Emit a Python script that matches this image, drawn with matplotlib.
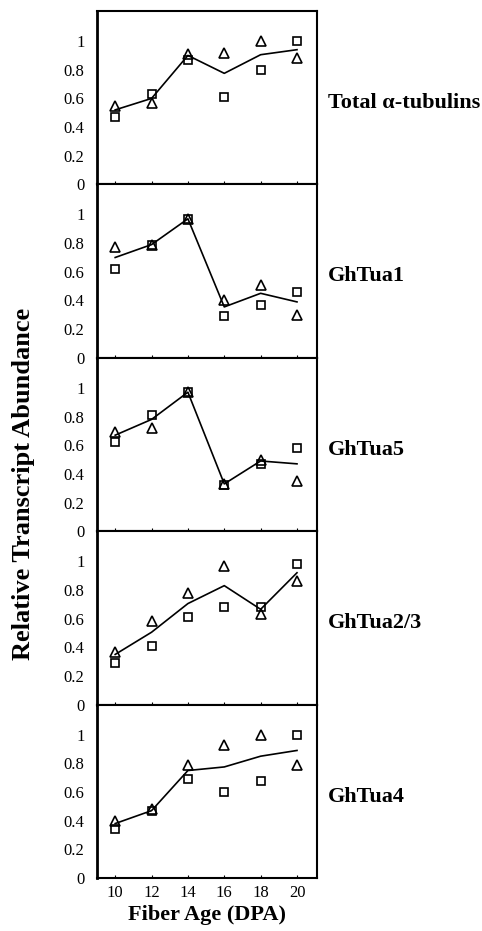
import matplotlib
matplotlib.use('Agg')
import matplotlib.pyplot as plt

plt.rcParams['font.family'] = ['Liberation Serif', 'DejaVu Serif']

# fiber age (DPA)
days = [10, 12, 14, 16, 18, 20]

panel_names = ['Total \u03b1-tubulins', 'GhTua1', 'GhTua5', 'GhTua2/3', 'GhTua4']

# open triangles
tri_total = [0.55, 0.57, 0.91, 0.92, 1.00, 0.88]
tri_tua1 = [0.77, 0.79, 0.97, 0.40, 0.51, 0.30]
tri_tua5 = [0.69, 0.72, 0.97, 0.33, 0.50, 0.35]
tri_tua23 = [0.37, 0.58, 0.78, 0.97, 0.63, 0.86]
tri_tua4 = [0.40, 0.48, 0.79, 0.93, 1.00, 0.79]

# open squares
sq_total = [0.47, 0.63, 0.87, 0.61, 0.80, 1.00]
sq_tua1 = [0.62, 0.79, 0.97, 0.29, 0.37, 0.46]
sq_tua5 = [0.62, 0.81, 0.97, 0.32, 0.47, 0.58]
sq_tua23 = [0.29, 0.41, 0.61, 0.68, 0.68, 0.98]
sq_tua4 = [0.34, 0.47, 0.69, 0.60, 0.68, 1.00]

# line (mean)
line_total = [0.52, 0.60, 0.90, 0.775, 0.905, 0.94]
line_tua1 = [0.70, 0.79, 0.97, 0.355, 0.45, 0.39]
line_tua5 = [0.67, 0.78, 0.97, 0.33, 0.49, 0.47]
line_tua23 = [0.35, 0.505, 0.705, 0.83, 0.665, 0.92]
line_tua4 = [0.38, 0.47, 0.75, 0.775, 0.85, 0.89]

tris = [tri_total, tri_tua1, tri_tua5, tri_tua23, tri_tua4]
sqs = [sq_total, sq_tua1, sq_tua5, sq_tua23, sq_tua4]
lines = [line_total, line_tua1, line_tua5, line_tua23, line_tua4]

fig = plt.figure(figsize=(4.82, 9.31), dpi=100)

W, H = 482.0, 931.0
left, right = 97, 317
top, ph = 11, 173.4

axes = []
for i in range(5):
    y0 = top + i * ph
    ax = fig.add_axes([left / W, 1 - (y0 + ph) / H, (right - left) / W, ph / H])
    ax.plot(days, lines[i], color='black', lw=1.2, zorder=2)
    ax.plot(days, tris[i], ls='none', marker='^', ms=6.5, mfc='none', mec='black', mew=1.2, zorder=3)
    ax.plot(days, sqs[i], ls='none', marker='s', ms=5.5, mfc='none', mec='black', mew=1.2, zorder=3)
    ax.set_xlim(9.0, 21.1)
    ax.set_ylim(0, 1.21)
    ax.set_yticks([0, 0.2, 0.4, 0.6, 0.8, 1.0])
    ax.set_yticklabels(['0', '0.2', '0.4', '0.6', '0.8', '1'])
    ax.set_xticks(days)
    ax.tick_params(axis='y', length=0, pad=9, labelsize=12)
    ax.tick_params(axis='x', direction='in', length=2, width=0.8, labelsize=12, pad=5)
    if i < 4:
        ax.tick_params(axis='x', labelbottom=False)
    for s in ax.spines.values():
        s.set_linewidth(1.5)
    ax.spines['left'].set_linewidth(2)
    ax.text(1.05, 0.47, panel_names[i], transform=ax.transAxes, ha='left', va='center',
            fontsize=16, fontweight='bold')
    axes.append(ax)

fig.text((left + right) / 2 / W, 1 - 915 / H, 'Fiber Age (DPA)', ha='center', va='center',
         fontsize=16, fontweight='bold')
fig.text(24 / W, 1 - 484 / H, 'Relative Transcript Abundance', ha='center', va='center',
         rotation=90, fontsize=19, fontweight='bold')

fig.savefig('out.png', dpi=100)
